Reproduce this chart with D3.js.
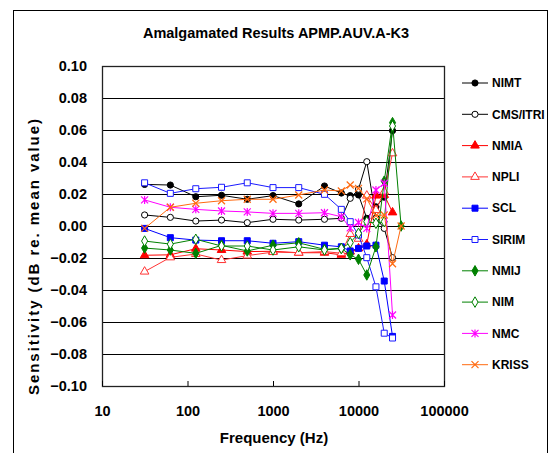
<!DOCTYPE html>
<html>
<head>
<meta charset="utf-8">
<script src="https://cdn.jsdelivr.net/npm/d3@7"></script>
<style>
  body { margin: 0; background: #fff; }
  text { font-family: "Liberation Sans", Arial, sans-serif; font-weight: bold; fill: #000; }
</style>
</head>
<body>
<div id="chart"></div>
<script>
// frequencies (Hz)
const freqs = [31.5, 63, 125, 250, 500, 1000, 2000, 4000, 6300, 8000, 10000, 12500, 16000, 20000, 25000, 31500];

// sensitivity deviations (dB re. mean value)
const nimt  = [0.0260, 0.0256, 0.0183, 0.0192, 0.0167, 0.0190, 0.0138, 0.0250, 0.0206, 0.0190, 0.0194, 0.0048, 0.0120, 0.0180, 0.0596, null];
const cms   = [0.0069, 0.0054, 0.0031, 0.0037, 0.0021, 0.0042, 0.0037, 0.0042, 0.0048, 0.0173, 0.0230, 0.0402, 0.0050, -0.0015, -0.0198, null];
const nmia  = [-0.0183, -0.0180, -0.0142, -0.0150, -0.0160, -0.0158, -0.0167, -0.0167, -0.0180, -0.0160, -0.0140, -0.0115, 0.0190, 0.0194, 0.0085, null];
const npli  = [-0.0285, -0.0196, -0.0175, -0.0213, -0.0185, -0.0163, -0.0167, -0.0160, -0.0170, -0.0050, -0.0080, 0.0190, 0.0100, 0.0215, 0.0454, null];
const scl   = [-0.0015, -0.0073, -0.0088, -0.0092, -0.0092, -0.0108, -0.0098, -0.0120, -0.0130, -0.0156, -0.0140, -0.0125, -0.0120, -0.0344, -0.0690, null];
const sirim = [0.0270, 0.0204, 0.0233, 0.0242, 0.0270, 0.0240, 0.0240, 0.0198, 0.0104, 0.0027, -0.0056, -0.0198, -0.0380, -0.0670, -0.0700, null];
const nmij  = [-0.0138, -0.0150, -0.0171, -0.0121, -0.0156, -0.0120, -0.0105, -0.0146, -0.0140, -0.0180, -0.0208, -0.0306, -0.0130, 0.0280, 0.0646, 0.0000];
const nim   = [-0.0094, -0.0113, -0.0083, -0.0125, -0.0125, -0.0150, -0.0130, -0.0150, -0.0140, -0.0104, -0.0046, 0.0027, 0.0017, 0.0027, 0.0625, null];
const nmc   = [0.0163, 0.0117, 0.0104, 0.0094, 0.0088, 0.0079, 0.0079, 0.0083, 0.0058, -0.0012, 0.0022, -0.0015, 0.0225, 0.0267, -0.0556, null];
const kriss = [-0.0015, 0.0117, 0.0142, 0.0158, 0.0167, 0.0167, 0.0194, 0.0225, 0.0219, 0.0256, 0.0235, 0.0170, 0.0065, 0.0069, -0.0236, 0.0000];

const seriesNames = ["NIMT", "CMS/ITRI", "NMIA", "NPLI", "SCL", "SIRIM", "NMIJ", "NIM", "NMC", "KRISS"];
const seriesValues = [nimt, cms, nmia, npli, scl, sirim, nmij, nim, nmc, kriss];

const yTicks = [-0.10, -0.08, -0.06, -0.04, -0.02, 0.00, 0.02, 0.04, 0.06, 0.08, 0.10];
const xTicks = [10, 100, 1000, 10000, 100000];

// marker / colour per series
const styles = [
    { color: "#000000", shape: "circle",   fill: true  },
    { color: "#000000", shape: "circle",   fill: false },
    { color: "#ff0000", shape: "triangle", fill: true  },
    { color: "#ff3333", shape: "triangle", fill: false },
    { color: "#0000ff", shape: "square",   fill: true  },
    { color: "#1a1aff", shape: "square",   fill: false },
    { color: "#008000", shape: "diamond",  fill: true  },
    { color: "#008000", shape: "diamond",  fill: false },
    { color: "#ff00ff", shape: "star",     fill: false },
    { color: "#ff6a10", shape: "cross",    fill: false }
];

const W = 552, H = 453;
const margin = { left: 102, top: 66 };
const width = 342, height = 320;

const svg = d3.select("#chart").append("svg")
    .attr("width", W)
    .attr("height", H);

// outer chart frame
svg.append("rect")
    .attr("x", 13.5).attr("y", 10.5)
    .attr("width", 534).attr("height", 460)
    .attr("fill", "#fff")
    .attr("stroke", "#000")
    .attr("stroke-width", 1);

svg.append("text")
    .attr("x", 276).attr("y", 38)
    .attr("text-anchor", "middle")
    .style("font-size", "14.5px")
    .text("Amalgamated Results APMP.AUV.A-K3");

const g = svg.append("g")
    .attr("transform", `translate(${margin.left}, ${margin.top})`);

const x = d3.scaleLog().domain([10, 100000]).range([0, width]);
const y = d3.scaleLinear().domain([-0.10, 0.10]).range([height, 0]);

// gridlines
g.selectAll(".gridline")
    .data(yTicks)
    .enter()
    .append("line")
    .attr("class", "gridline")
    .attr("x1", 0).attr("x2", width)
    .attr("y1", (d) => Math.round(y(d)) + 0.5)
    .attr("y2", (d) => Math.round(y(d)) + 0.5)
    .attr("stroke", "#000")
    .attr("stroke-width", 1);

// plot area border
g.append("rect")
    .attr("x", 0.5).attr("y", 0.5)
    .attr("width", width).attr("height", height)
    .attr("fill", "none")
    .attr("stroke", "#222")
    .attr("stroke-width", 1.3);

// y axis labels
const yAxis = g.append("g")
    .attr("class", "y-axis")
    .call(d3.axisLeft(y).tickValues(yTicks).tickSize(0).tickPadding(15)
        .tickFormat(d3.format(".2f")));
yAxis.select(".domain").remove();
yAxis.selectAll("text")
    .style("font-size", "14.5px")
    .style("font-family", "'Liberation Sans', Arial, sans-serif");

// x axis, ticks pointing inward
const xAxis = g.append("g")
    .attr("class", "x-axis")
    .attr("transform", `translate(0, ${height})`)
    .call(d3.axisBottom(x).tickValues(xTicks).tickSizeInner(-5).tickSizeOuter(0).tickPadding(20)
        .tickFormat(d3.format("d")));
xAxis.select(".domain").remove();
xAxis.selectAll("line").attr("stroke", "#000");
xAxis.selectAll("text")
    .style("font-size", "14.5px")
    .style("font-family", "'Liberation Sans', Arial, sans-serif");

svg.append("text")
    .attr("x", 274).attr("y", 443)
    .attr("text-anchor", "middle")
    .style("font-size", "15px")
    .text("Frequency (Hz)");

// y title is spread out over the height of the plot, as in the original
svg.append("text")
    .attr("transform", "translate(39, 257) rotate(-90)")
    .attr("text-anchor", "middle")
    .attr("textLength", 276)
    .attr("lengthAdjust", "spacing")
    .style("font-size", "15px")
    .text("Sensitivity (dB re. mean value)");

function markerPath(shape)
{
    switch (shape)
    {
        case "circle":   return d3.symbol(d3.symbolCircle, 30)();
        case "triangle": return d3.symbol(d3.symbolTriangle, 32)();
        case "square":   return d3.symbol(d3.symbolSquare, 36)();
        case "diamond":  return d3.symbol(d3.symbolDiamond, 32)();
        case "cross":    return "M-3.5,-3.5L3.5,3.5M-3.5,3.5L3.5,-3.5";
        case "star":     return "M-3.5,-3.5L3.5,3.5M-3.5,3.5L3.5,-3.5M0,-4L0,4";
    }
}

function drawMarker(sel, st)
{
    const open = st.shape === "cross" || st.shape === "star";
    sel.append("path")
        .attr("d", markerPath(st.shape))
        .attr("fill", open ? "none" : (st.fill ? st.color : "#fff"))
        .attr("stroke", st.color)
        .attr("stroke-width", open ? 1.2 : 1);
}

const line = d3.line()
    .defined((d) => d.v !== null)
    .x((d) => x(d.f))
    .y((d) => y(d.v));

for (let i = 0; i < seriesValues.length; ++i)
{
    const pts = freqs.map((f, j) => ({ f: f, v: seriesValues[i][j] }));
    const st = styles[i];

    g.append("path")
        .datum(pts)
        .attr("d", line)
        .attr("fill", "none")
        .attr("stroke", st.color)
        .attr("stroke-width", 1);

    g.selectAll(`.m-${i}`)
        .data(pts.filter((d) => d.v !== null))
        .enter()
        .append("g")
        .attr("class", `m-${i}`)
        .attr("transform", (d) => `translate(${x(d.f)}, ${y(d.v)})`)
        .each(function () { drawMarker(d3.select(this), st); });
}

// legend
const legend = svg.append("g")
    .attr("class", "legend")
    .attr("transform", "translate(462, 83)");

seriesNames.forEach((name, i) => {
    const row = legend.append("g")
        .attr("transform", `translate(0, ${i * 31.3})`);
    row.append("line")
        .attr("x1", 0).attr("x2", 26)
        .attr("stroke", styles[i].color)
        .attr("stroke-width", 1);
    row.append("g")
        .attr("transform", "translate(13, 0)")
        .call((s) => drawMarker(s, styles[i]));
    row.append("text")
        .attr("x", 30)
        .attr("dy", "0.35em")
        .style("font-size", "12px")
        .text(name);
});
</script>
</body>
</html>
